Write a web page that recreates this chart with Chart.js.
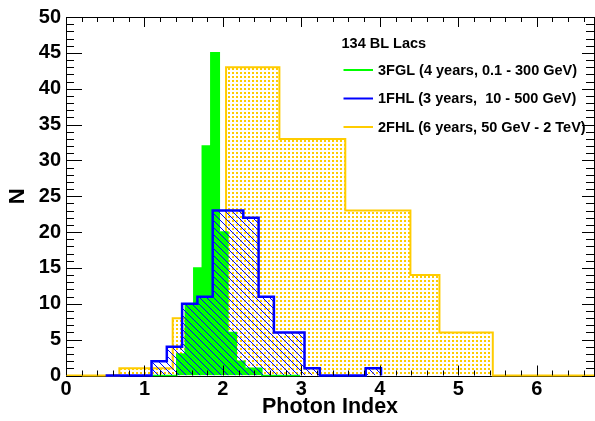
<!DOCTYPE html>
<html>
<head>
<meta charset="utf-8">
<script src="https://cdn.jsdelivr.net/npm/chart.js@4.4.1/dist/chart.umd.min.js"></script>
<style>
  html, body { margin: 0; padding: 0; background: #fff; }
  canvas { display: block; }
</style>
</head>
<body>
<canvas id="chart" width="595" height="421"></canvas>
<script>
// bin edges and counts
const fglEdges = [1.087, 1.195, 1.304, 1.412, 1.521, 1.629, 1.737, 1.846, 1.954, 2.063,
                  2.171, 2.279, 2.388, 2.496, 2.605, 2.713, 2.821, 2.930, 2.985];
const fglCounts = [0, 0, 0, 3, 10, 15, 32, 45, 20, 6, 2, 1, 1, 0, 0, 0, 0, 0];

const fhl1Edges = [0.505, 0.700, 0.895, 1.090, 1.285, 1.480, 1.675, 1.870, 2.065, 2.260,
                   2.455, 2.650, 2.845, 3.040, 3.235, 3.430, 3.625, 3.820, 4.015];
const fhl1Counts = [0, 0, 0, 2, 4, 10, 11, 23, 23, 22, 11, 6, 6, 1, 0, 0, 0, 1];

const fhl2Edges = [0, 0.68, 1.36, 2.04, 2.72, 3.56, 4.39, 4.76, 5.44, 6.12, 6.80];
const fhl2Counts = [0, 1, 8, 43, 33, 23, 14, 6, 0, 0];

const xTicks = [0, 1, 2, 3, 4, 5, 6];
const yTicks = [0, 5, 10, 15, 20, 25, 30, 35, 40, 45, 50];

const legendTitle = '134 BL Lacs';
const seriesLabels = ['3FGL (4 years, 0.1 - 300 GeV)', '1FHL (3 years,  10 - 500 GeV)', '2FHL (6 years, 50 GeV - 2 TeV)'];

const GREEN = '#00ff00', BLUE = '#0000ff', YELLOW = '#ffcc00';
const FONT = '"Liberation Sans", Arial, sans-serif';

function histPoints(edges, counts) {
  const pts = [{ x: edges[0], y: 0 }];
  counts.forEach((c, i) => pts.push({ x: edges[i], y: c }));
  pts.push({ x: edges[edges.length - 1], y: 0 });
  return pts;
}

function hatch() {
  const c = document.createElement('canvas');
  c.width = 7; c.height = 7;
  const g = c.getContext('2d');
  g.fillStyle = BLUE;
  for (let i = 0; i < 7; i++) g.fillRect(i, i, 1, 1);
  return g.createPattern(c, 'repeat');
}

function dots() {
  const c = document.createElement('canvas');
  c.width = 4; c.height = 4;
  const g = c.getContext('2d');
  g.fillStyle = YELLOW;
  g.fillRect(0, 0, 2, 2);
  return g.createPattern(c, 'repeat');
}

const frame = {
  id: 'frame',
  beforeDatasetsDraw(chart) {
    const { ctx, chartArea: a } = chart;
    ctx.save();
    ctx.strokeStyle = '#000';
    ctx.lineWidth = 1;
    ctx.strokeRect(Math.round(a.left) + 0.5, Math.round(a.top) + 0.5,
                   Math.round(a.right - a.left), Math.round(a.bottom - a.top));
    ctx.restore();
  },
  afterDatasetsDraw(chart) {
    const { ctx, chartArea: a } = chart;
    const xs = chart.scales.x, ys = chart.scales.y;
    ctx.save();
    ctx.strokeStyle = '#000';
    ctx.lineWidth = 1;
    ctx.beginPath();
    for (let i = 0; i * 0.2 <= xs.max + 1e-9; i++) {
      const px = Math.round(xs.getPixelForValue(i * 0.2)) + 0.5;
      const len = i % 5 === 0 ? 10 : 5;
      ctx.moveTo(px, a.bottom); ctx.lineTo(px, a.bottom - len);
      ctx.moveTo(px, a.top); ctx.lineTo(px, a.top + len);
    }
    for (let j = 0; j <= ys.max; j++) {
      const py = Math.round(ys.getPixelForValue(j)) + 0.5;
      const major = j % 5 === 0;
      ctx.moveTo(a.left, py); ctx.lineTo(a.left + (major ? 16 : 8), py);
      ctx.moveTo(a.right, py); ctx.lineTo(a.right - (major ? 12 : 8), py);
    }
    ctx.stroke();
    ctx.restore();
  },
  afterDraw(chart) {
    const ctx = chart.ctx;
    ctx.save();
    ctx.fillStyle = '#000';
    ctx.font = 'bold 14.5px ' + FONT;
    ctx.textBaseline = 'middle';
    ctx.fillText(legendTitle, 341.5, 43.5);
    const colors = [GREEN, BLUE, YELLOW];
    const rows = [70, 98.5, 127];
    seriesLabels.forEach((t, i) => {
      ctx.strokeStyle = colors[i];
      ctx.lineWidth = 2;
      ctx.beginPath();
      ctx.moveTo(343.5, rows[i]); ctx.lineTo(373, rows[i]);
      ctx.stroke();
      ctx.fillText(t, 378, rows[i] + 0.5);
    });
    ctx.restore();
  }
};

const tickFont = { family: FONT, weight: 'bold', size: 20 };
const clipBox = { left: 2, top: 2, right: 0, bottom: 3 };

new Chart(document.getElementById('chart'), {
  type: 'line',
  data: {
    datasets: [
      {
        label: seriesLabels[1],
        data: histPoints(fhl1Edges, fhl1Counts),
        borderColor: BLUE, borderWidth: 2.5,
        backgroundColor: hatch(), fill: 'origin',
        stepped: true, pointRadius: 0, tension: 0, clip: clipBox
      },
      {
        label: seriesLabels[0],
        data: histPoints(fglEdges, fglCounts),
        borderColor: GREEN, borderWidth: 1.5,
        backgroundColor: GREEN, fill: 'origin',
        stepped: true, pointRadius: 0, tension: 0, clip: clipBox
      },
      {
        label: seriesLabels[2],
        data: histPoints(fhl2Edges, fhl2Counts),
        borderColor: YELLOW, borderWidth: 2,
        backgroundColor: dots(), fill: 'origin',
        stepped: true, pointRadius: 0, tension: 0, clip: clipBox
      }
    ]
  },
  options: {
    responsive: false,
    animation: false,
    events: [],
    layout: { padding: { left: 0, top: 13.5, right: 1, bottom: 0 }, autoPadding: false },
    plugins: { legend: { display: false }, tooltip: { enabled: false } },
    scales: {
      x: {
        type: 'linear', min: 0, max: 6.73,
        grid: { display: false, drawTicks: false }, border: { display: false },
        afterBuildTicks: s => { s.ticks = xTicks.map(v => ({ value: v })); },
        ticks: { font: tickFont, color: '#000', padding: 2, maxRotation: 0, autoSkip: false },
        title: { display: true, text: 'Photon Index', color: '#000',
                 font: { family: FONT, weight: 'bold', size: 21.5 }, padding: { top: 0, bottom: 1 } },
        afterFit: s => { s.height = 45.5; }
      },
      y: {
        type: 'linear', min: 0, max: 50,
        grid: { display: false, drawTicks: false }, border: { display: false },
        afterBuildTicks: s => { s.ticks = yTicks.map(v => ({ value: v })); },
        ticks: { font: tickFont, color: '#000', padding: 5, autoSkip: false },
        title: { display: true, text: 'N', color: '#000',
                 font: { family: FONT, weight: 'bold', size: 22 }, padding: { top: 5, bottom: 0 } },
        afterFit: s => { s.width = 66; }
      }
    }
  },
  plugins: [frame]
});
</script>
</body>
</html>
